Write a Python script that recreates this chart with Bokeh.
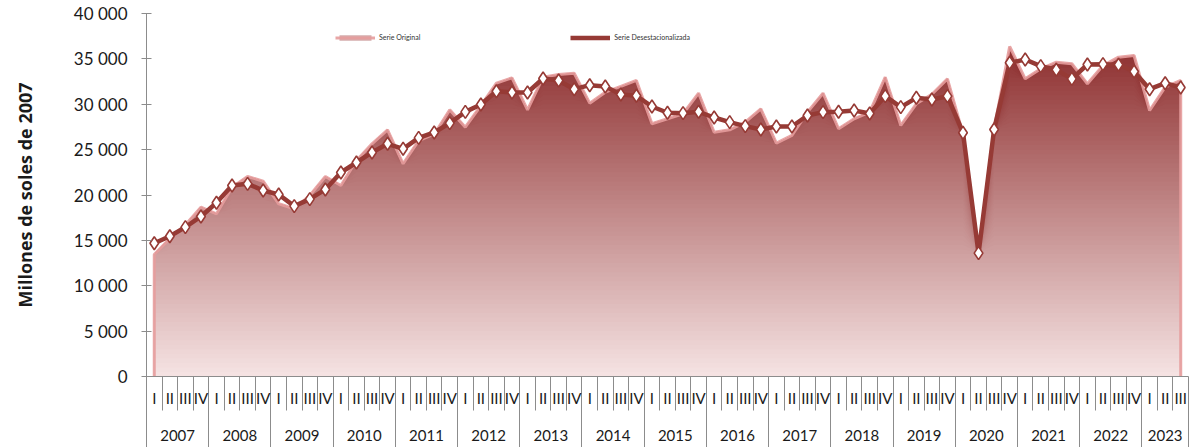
import numpy as np
from bokeh.plotting import figure
from bokeh.models import FixedTicker, LinearAxis, Range1d, Legend, LegendItem
from bokeh.embed import file_html
from bokeh.resources import INLINE

# ---------------- data ----------------
years = list(range(2007, 2024))
quarters_per_year = [4] * 16 + [3]
quarter_names = ["I", "II", "III", "IV"]

serie_original = [
    13440, 15200, 16700, 18660,
    17930, 20860, 22040, 21520,
    19030, 18480, 19950, 22040,
    21050, 23800, 25640, 27180,
    23440, 26000, 26700, 29380,
    27470, 29860, 32320, 32910,
    29380, 32990, 33280, 33420,
    30120, 31330, 31960, 32620,
    27850, 28400, 28950, 31220,
    26920, 27180, 28030, 29500,
    25710, 26560, 29130, 31220,
    27300, 28400, 29130, 32990,
    27660, 30050, 31100, 32800,
    26740, 13700, 27220, 36370,
    32800, 33900, 34640, 34460,
    32250, 34270, 35190, 35370,
    29310, 31880, 32620,
]

serie_desest = [
    14690, 15460, 16460, 17630,
    19140, 21050, 21230, 20500,
    20060, 18770, 19540, 20610,
    22480, 23580, 24690, 25640,
    25090, 26300, 26890, 27920,
    29160, 29970, 31440, 31300,
    31300, 32840, 32620, 31660,
    32100, 31960, 31080, 30930,
    29750, 29060, 29020, 29170,
    28540, 28030, 27590, 27220,
    27550, 27550, 28760, 29130,
    29170, 29310, 28980, 30890,
    29680, 30710, 30530, 30890,
    26860, 13590, 27220, 34570,
    34930, 34200, 33800, 32800,
    34380, 34420, 34350, 33610,
    31660, 32320, 31850,
]

y_ticks = [0, 5000, 10000, 15000, 20000, 25000, 30000, 35000, 40000]

# ---------------- derived positions ----------------
quarter_labels = []
for n in quarters_per_year:
    quarter_labels += quarter_names[:n]
n_pts = len(quarter_labels)
xs = list(range(n_pts))

year_centers, year_bounds = [], []
start = 0
for n in quarters_per_year:
    year_bounds.append(start - 0.5)
    year_centers.append(start + (n - 1) / 2)
    start += n
year_bounds.append(start - 0.5)

q_bounds = [i - 0.5 for i in range(n_pts + 1)]

AXIS_GREY = "#8c8c8c"
DARK = "#963a35"

p = figure(width=1190, height=447,
           x_range=Range1d(-0.5, n_pts - 0.5), y_range=Range1d(0, 40000),
           output_backend="svg", toolbar_location=None, x_axis_location=None,
           min_border_left=146, min_border_right=2, min_border_top=13,
           min_border_bottom=71)
p.outline_line_color = None
p.grid.visible = False
p.background_fill_color = "white"

# ---------------- gradient area (Serie Original) ----------------
orig = np.array(serie_original, dtype=float)
light = np.array([246, 228, 228])
dark = np.array([140, 44, 44])
step = 500
n_bands = int(np.ceil(orig.max() / step))
top_val = 37000.0
band_renderers = {}
for k in reversed(range(n_bands)):
    hi = (k + 1) * step
    t = min(1.0, (k + 0.5) * step / top_val)
    c = (light + t * (dark - light)).astype(int)
    col = "#%02x%02x%02x" % tuple(c)
    r = p.varea(x=xs, y1=0, y2=np.minimum(orig, hi), fill_color=col)
    band_renderers[k] = r

outline = p.line(x=[xs[0]] + xs + [xs[-1]], y=[0] + serie_original + [0],
                 line_color="#e59c9c", line_width=3, line_alpha=0.9)

# ---------------- seasonally adjusted line ----------------
line_r = p.line(x=xs, y=serie_desest, line_color=DARK, line_width=4.5)
p.scatter(x=xs, y=serie_desest, marker="diamond", size=13,
          fill_color="white", line_color=DARK, line_width=1.6)

# ---------------- y axis ----------------
yax = p.yaxis[0]
yax.ticker = FixedTicker(ticks=y_ticks, minor_ticks=[])
yax.major_label_overrides = {v: f"{v:,}".replace(",", " ") for v in y_ticks}
yax.axis_line_color = AXIS_GREY
yax.major_tick_line_color = AXIS_GREY
yax.major_tick_in = 5
yax.major_tick_out = 5
yax.minor_tick_line_color = None
yax.major_label_standoff = 14
yax.major_label_text_font = "Lato"
yax.major_label_text_font_size = "17px"
yax.major_label_text_color = "#1a1a1a"
yax.axis_label = "Millones de soles de 2007"
yax.axis_label_text_font = "Open Sans"
yax.axis_label_text_font_style = "bold"
yax.axis_label_text_font_size = "18px"
yax.axis_label_text_color = "#1a1a1a"
yax.axis_label_standoff = 34

# ---------------- x axes (quarters + years) ----------------
ax_q = LinearAxis(ticker=FixedTicker(ticks=xs, minor_ticks=q_bounds),
                  major_label_overrides={i: quarter_labels[i] for i in xs})
ax_q.axis_line_color = AXIS_GREY
ax_q.major_tick_line_color = None
ax_q.major_tick_in = 0
ax_q.major_tick_out = 0
ax_q.minor_tick_line_color = AXIS_GREY
ax_q.minor_tick_in = 0
ax_q.minor_tick_out = 34
ax_q.major_label_standoff = -22
ax_q.major_label_text_font = "Lato"
ax_q.major_label_text_font_size = "15px"
ax_q.major_label_text_color = "#1a1a1a"
p.add_layout(ax_q, "below")

ax_y = LinearAxis(ticker=FixedTicker(ticks=year_centers, minor_ticks=year_bounds),
                  major_label_overrides={c: str(y) for c, y in zip(year_centers, years)})
ax_y.axis_line_color = None
ax_y.major_tick_line_color = None
ax_y.major_tick_in = 0
ax_y.major_tick_out = 0
ax_y.minor_tick_line_color = AXIS_GREY
ax_y.minor_tick_in = 0
ax_y.minor_tick_out = 60
ax_y.major_label_standoff = -40
ax_y.major_label_text_font = "Lato"
ax_y.major_label_text_font_size = "15px"
ax_y.major_label_text_color = "#1a1a1a"
p.add_layout(ax_y, "below")

# ---------------- legend ----------------
legend = Legend(items=[
    LegendItem(label="Serie Original", renderers=[band_renderers[22], outline]),
    LegendItem(label="Serie Desestacionalizada", renderers=[line_r]),
], orientation="horizontal", location=(189, 335))
legend.glyph_width = 40
legend.glyph_height = 7
legend.label_height = 8
legend.label_standoff = 4
legend.spacing = 150
legend.padding = 0
legend.margin = 0
legend.border_line_color = None
legend.background_fill_alpha = 0
legend.label_text_font = "Lato"
legend.label_text_font_size = "7px"
legend.label_text_color = "#333333"
p.add_layout(legend)

open("out.html", "w").write(file_html(p, INLINE))
